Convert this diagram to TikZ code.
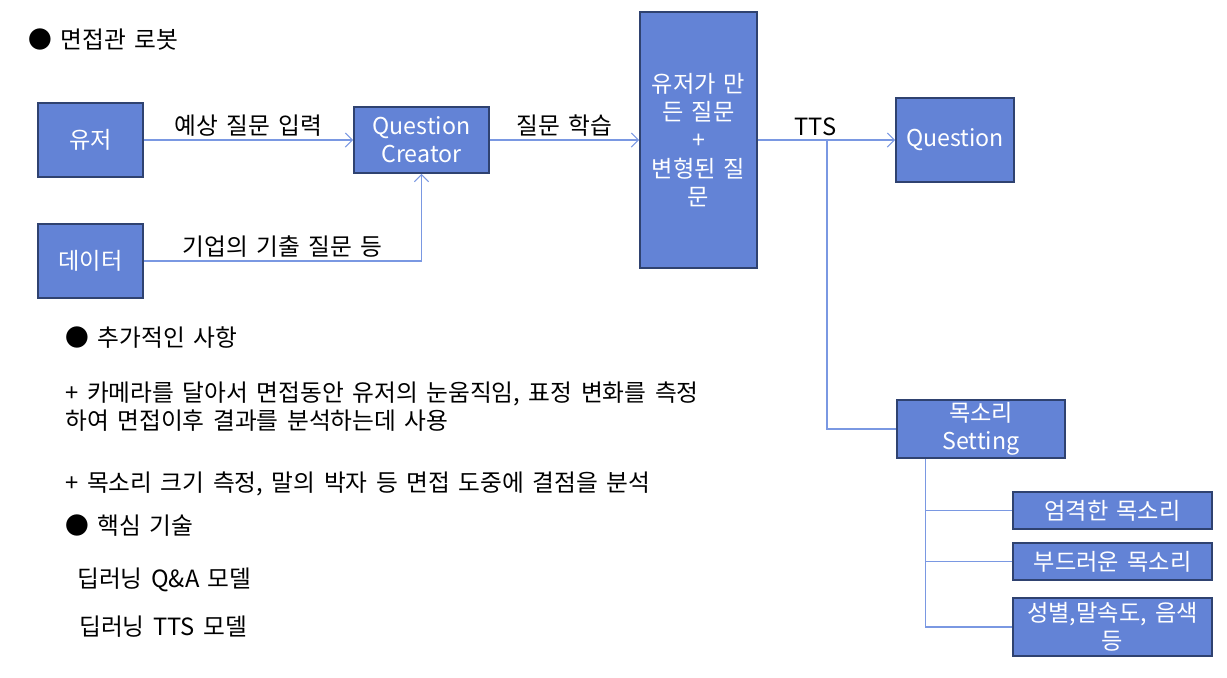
\documentclass[tikz,border=0pt]{standalone}
\usepackage{fontspec}
\setmainfont[WordSpace=1.6]{Noto Sans CJK KR}
\usetikzlibrary{positioning,arrows.meta}
\definecolor{boxfill}{RGB}{99,131,214}
\definecolor{boxline}{RGB}{47,66,112}
\definecolor{wirecol}{RGB}{122,152,226}

\begin{document}
\begin{tikzpicture}[x=0.02cm, y=-0.02cm, > = {Straight Barb[length=4pt,width=8pt]},
box/.style={rectangle, draw=boxline, line width=1.1pt, fill=boxfill, text=white, align=center, inner sep=0pt, font=\fontsize{13.2}{16}\selectfont},
wire/.style={draw=wirecol, line width=0.6pt},
note/.style={anchor=west, inner sep=0pt, font=\fontsize{13.5}{16}\selectfont},
lbl/.style={above, inner sep=2pt, text=black, font=\fontsize{13.5}{16}\selectfont}]

\useasboundingbox (0,0) rectangle (1227,677);

% input side
\node (user) [box, minimum width=2.1cm, minimum height=1.48cm] at (90.5,140) {유저};
\node (data) [box, minimum width=2.1cm, minimum height=1.48cm] at (90.5,261) {데이터};
\node (qc) [box, minimum width=2.7cm, minimum height=1.32cm] at (421.5,140) {Question\\Creator};
\node (qset) [box, minimum width=2.34cm, minimum height=5.12cm] at (698.5,140) {유저가 만\\든 질문\\+\\변형된 질\\문};
\node (quest) [box, minimum width=2.36cm, minimum height=1.68cm] at (955,140) {Question};

\draw [wire, ->] (user) -- node[lbl] {예상 질문 입력} (qc);
\draw [wire, ->] (data) -| node[lbl, pos=0.25] {기업의 기출 질문 등} (qc);
\draw [wire, ->] (qc) -- node[lbl] {질문 학습} (qset);
\draw [wire, ->] (qset) -- node[lbl, pos=0.42] {TTS} (quest);

% voice settings
\node (voice) [box, minimum width=3.36cm, minimum height=1.16cm] at (981,429) {목소리\\Setting};
\node (strict) [box, minimum width=3.98cm, minimum height=0.74cm] at (1112.5,510.5) {엄격한 목소리};
\node (soft) [box, minimum width=3.98cm, minimum height=0.74cm] at (1112.5,561.5) {부드러운 목소리};
\node (etc) [box, minimum width=3.98cm, minimum height=1.16cm] at (1112.5,627) {성별,말속도, 음색\\등};

\coordinate (tap) at (827,140);
\coordinate (trunk) at ([xshift=0.58cm]voice.south west);
\draw [wire] (tap) |- (voice.west);
\draw [wire] (trunk) |- (etc.west);
\draw [wire] (trunk |- strict.west) -- (strict.west);
\draw [wire] (trunk |- soft.west) -- (soft.west);

% notes
\node (title) [note] at (28,40) {● 면접관 로봇};
\node (extra) [note] at (65,338) {● 추가적인 사항};
\node (cam) [note, align=left] at (65,407) {+ 카메라를 달아서 면접동안 유저의 눈움직임, 표정 변화를 측정\\하여 면접이후 결과를 분석하는데 사용};
\node (mic) [note] at (65,484) {+ 목소리 크기 측정, 말의 박자 등 면접 도중에 결점을 분석};
\node (core) [note] at (65,526) {● 핵심 기술};
\node (qa) [note] at (77,580) {딥러닝 Q\&A 모델};
\node (ttsm) [note] at (79,627) {딥러닝 TTS 모델};

\end{tikzpicture}
\end{document}
